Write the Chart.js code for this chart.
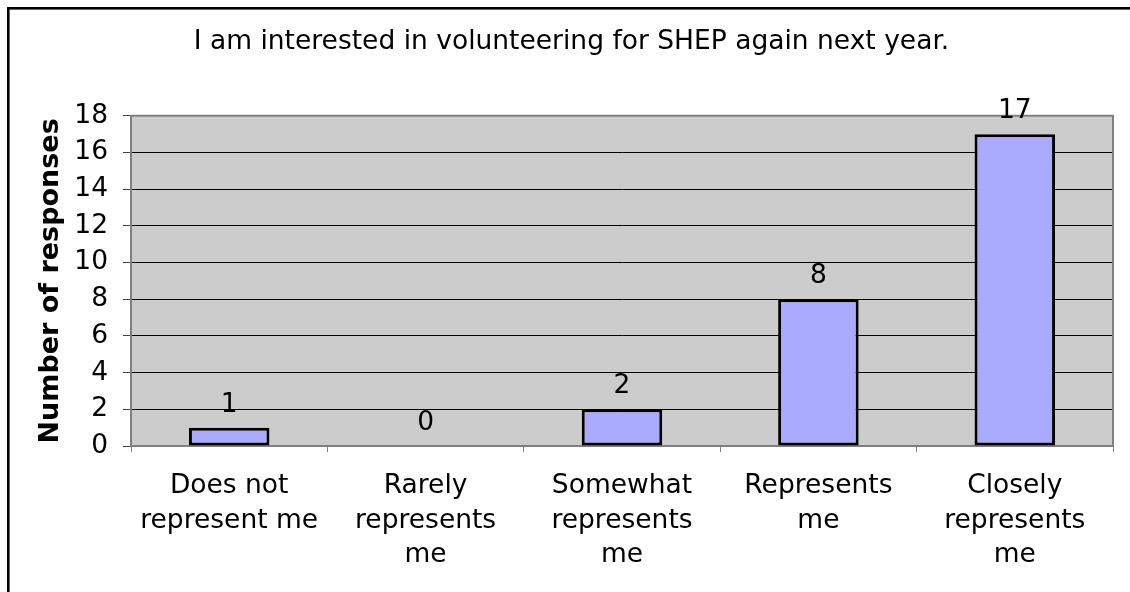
<!DOCTYPE html>
<html>
<head>
<meta charset="utf-8">
<script src="https://cdn.jsdelivr.net/npm/chart.js@4/dist/chart.umd.min.js"></script>
<style>
  html, body { margin: 0; padding: 0; background: #ffffff; }
  #wrap { width: 1130px; height: 592px; }
</style>
</head>
<body>
<div id="wrap"><canvas id="c" width="1130" height="592"></canvas></div>
<script>
const chartTitle = "I am interested in volunteering for SHEP again next year.";
const yAxisTitle = "Number of responses";
const categories = [
  ["Does not", "represent me"],
  ["Rarely", "represents", "me"],
  ["Somewhat", "represents", "me"],
  ["Represents", "me"],
  ["Closely", "represents", "me"]
];
const responseCounts = [1, 0, 2, 8, 17];
const yMin = 0;
const yMax = 18;
const yStep = 2;

const FONT = "'DejaVu Sans', Verdana, sans-serif";
const FS = 26.5;

const frameAndPlot = {
  id: 'frameAndPlot',
  beforeDraw(chart) {
    const { ctx, chartArea: a } = chart;
    ctx.save();
    ctx.fillStyle = '#ffffff';
    ctx.fillRect(0, 0, chart.width, chart.height);
    ctx.strokeStyle = '#000000';
    ctx.lineWidth = 2.6;
    ctx.strokeRect(8.3, 8.3, chart.width + 20, chart.height + 20);
    ctx.fillStyle = '#cccccc';
    ctx.fillRect(a.left, a.top, a.right - a.left, a.bottom - a.top);
    ctx.restore();
  },
  beforeDatasetsDraw(chart) {
    const { ctx, chartArea: a } = chart;
    ctx.save();
    ctx.strokeStyle = '#808080';
    ctx.lineWidth = 2;
    ctx.beginPath();
    ctx.moveTo(a.left, a.top);
    ctx.lineTo(a.right, a.top);
    ctx.lineTo(a.right, a.bottom);
    ctx.stroke();
    ctx.restore();
  }
};

const valueLabels = {
  id: 'valueLabels',
  afterDatasetsDraw(chart) {
    const { ctx } = chart;
    const meta = chart.getDatasetMeta(0);
    ctx.save();
    ctx.font = FS + 'px ' + FONT;
    ctx.fillStyle = '#000000';
    ctx.textAlign = 'center';
    ctx.textBaseline = 'alphabetic';
    meta.data.forEach((bar, i) => {
      ctx.fillText(String(chart.data.datasets[0].data[i]), bar.x, bar.y - 16);
    });
    ctx.restore();
  }
};

new Chart(document.getElementById('c'), {
  type: 'bar',
  data: {
    labels: categories,
    datasets: [{
      data: responseCounts,
      backgroundColor: '#aaaaff',
      borderColor: '#000000',
      borderWidth: 3,
      borderSkipped: false,
      categoryPercentage: 1.0,
      barPercentage: 0.41
    }]
  },
  options: {
    responsive: false,
    animation: false,
    events: [],
    layout: { padding: { left: 30, right: 17, top: 0, bottom: 0 } },
    plugins: {
      legend: { display: false },
      tooltip: { enabled: false },
      title: {
        display: true,
        text: chartTitle,
        color: '#000000',
        font: { family: FONT, size: FS, weight: 'normal', lineHeight: 1.2 },
        padding: { top: 26, bottom: 58 }
      }
    },
    scales: {
      x: {
        afterFit(scale) { scale.height = 146; },
        grid: {
          drawOnChartArea: false,
          drawTicks: true,
          tickLength: 6,
          tickColor: '#808080',
          lineWidth: 1
        },
        border: { display: true, color: '#808080', width: 2 },
        ticks: {
          color: '#000000',
          maxRotation: 0,
          autoSkip: false,
          padding: 17,
          font: { family: FONT, size: FS, lineHeight: 1.3 }
        }
      },
      y: {
        min: yMin,
        max: yMax,
        afterFit(scale) { scale.width = 101; },
        ticks: {
          stepSize: yStep,
          color: '#000000',
          padding: 15,
          font: { family: FONT, size: FS }
        },
        grid: {
          color: (c) => (c.tick && (c.tick.value === yMax || c.tick.value === yMin)) ? '#808080' : '#000000',
          tickColor: '#404040',
          tickLength: 8,
          lineWidth: 1
        },
        border: { display: true, color: '#808080', width: 2 },
        title: {
          display: true,
          text: yAxisTitle,
          color: '#000000',
          font: { family: FONT, size: 27, weight: 'bold', lineHeight: 1 },
          padding: { top: 7.5, bottom: 0 }
        }
      }
    }
  },
  plugins: [frameAndPlot, valueLabels]
});
</script>
</body>
</html>
